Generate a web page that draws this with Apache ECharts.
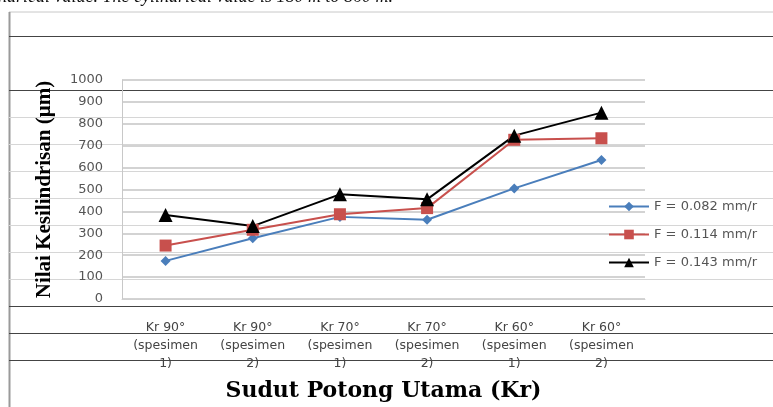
<!DOCTYPE html>
<html>
<head>
<meta charset="utf-8">
<script src="https://cdn.jsdelivr.net/npm/echarts@6/dist/echarts.min.js"></script>
<style>
  html, body { margin: 0; padding: 0; background: #fff; }
  #chart { width: 773px; height: 407px; }
</style>
</head>
<body>
<div id="chart"></div>
<script>
// Cutting angle groups (Kr) and specimen numbers
const categories = [
  'Kr 90°\n(spesimen\n1)', 'Kr 90°\n(spesimen\n2)',
  'Kr 70°\n(spesimen\n1)', 'Kr 70°\n(spesimen\n2)',
  'Kr 60°\n(spesimen\n1)', 'Kr 60°\n(spesimen\n2)'
];

// Cylindricity values (µm) for each feed rate
const feed0082 = [174, 277, 375, 362, 505, 635];
const feed0114 = [244, 316, 387, 415, 727, 734];
const feed0143 = [384, 333, 478, 455, 746, 851];

const seriesNames = ['F = 0.082 mm/r', 'F = 0.114 mm/r', 'F = 0.143 mm/r'];
const yTicks = { min: 0, max: 1000, interval: 100 };

const chart = echarts.init(document.getElementById('chart'), null, { renderer: 'canvas' });

// Ruled lines of the surrounding document table
const ruleY = [36, 90, 306, 333, 360];
const faintRuleY = [117, 144, 171, 198, 225, 252, 279];
const graphics = [];
graphics.push({ type: 'line', shape: { x1: 9, y1: 12, x2: 773, y2: 12 }, style: { stroke: '#c8c8c8', lineWidth: 1 }, z: 0 });
graphics.push({ type: 'line', shape: { x1: 9.5, y1: 12, x2: 9.5, y2: 407 }, style: { stroke: '#9a9a9a', lineWidth: 2 }, z: 0 });
ruleY.forEach(y => graphics.push({ type: 'line', shape: { x1: 9, y1: y + 0.5, x2: 773, y2: y + 0.5 }, style: { stroke: '#444', lineWidth: 1 }, z: 0 }));
faintRuleY.forEach(y => graphics.push({ type: 'line', shape: { x1: 9, y1: y + 0.5, x2: 773, y2: y + 0.5 }, style: { stroke: '#d6d6d6', lineWidth: 1 }, z: 0 }));
graphics.push({
  type: 'text', left: -2, top: -12, z: 1,
  style: { text: 'ndrical value. The cylindrical value is 180 m to 860 m.', font: 'italic 18px "Liberation Serif"', fill: '#111' }
});

chart.setOption({
  backgroundColor: '#fff',
  animation: false,
  graphic: graphics,
  grid: { left: 122, right: 128, top: 80, bottom: 105, containLabel: false },
  legend: {
    orient: 'vertical',
    left: 603, top: 195,
    itemWidth: 40, itemHeight: 12, itemGap: 15,
    textStyle: { fontFamily: 'DejaVu Sans', fontSize: 13, color: '#555' },
    data: seriesNames
  },
  xAxis: {
    type: 'category',
    data: categories,
    boundaryGap: true,
    axisLine: { show: true, lineStyle: { color: '#d0d0d0', type: 'dotted' } },
    axisTick: { show: false },
    axisLabel: { interval: 0, margin: 20, fontFamily: 'DejaVu Sans', fontSize: 12.5, lineHeight: 18, color: '#444' },
    name: 'Sudut Potong Utama (Kr)',
    nameLocation: 'middle', nameGap: 81,
    nameTextStyle: { fontFamily: 'DejaVu Serif', fontWeight: 'bold', fontSize: 22, color: '#000' }
  },
  yAxis: {
    type: 'value',
    min: yTicks.min, max: yTicks.max, interval: yTicks.interval,
    axisLine: { show: true, lineStyle: { color: '#c8c8c8' } },
    axisTick: { show: false },
    axisLabel: { margin: 19, fontFamily: 'DejaVu Sans', fontSize: 13, color: '#555', formatter: v => String(v) },
    splitLine: { show: true, lineStyle: { color: '#c4c4c4', width: 1.5 } },
    name: 'Nilai Kesilindrisan (µm)',
    nameLocation: 'middle', nameGap: 67, nameRotate: 90,
    nameTextStyle: { fontFamily: 'Liberation Serif', fontWeight: 'bold', fontSize: 21, color: '#000' }
  },
  series: [
    {
      name: seriesNames[0], type: 'line', data: feed0082,
      symbol: 'diamond', symbolSize: 10,
      lineStyle: { color: '#4a7ebb', width: 2 },
      itemStyle: { color: '#4a7ebb' }
    },
    {
      name: seriesNames[1], type: 'line', data: feed0114,
      symbol: 'rect', symbolSize: 12,
      lineStyle: { color: '#c8504d', width: 2 },
      itemStyle: { color: '#c8504d' }
    },
    {
      name: seriesNames[2], type: 'line', data: feed0143,
      symbol: 'triangle', symbolSize: 14,
      lineStyle: { color: '#000', width: 2 },
      itemStyle: { color: '#000' }
    }
  ]
});
</script>
</body>
</html>
